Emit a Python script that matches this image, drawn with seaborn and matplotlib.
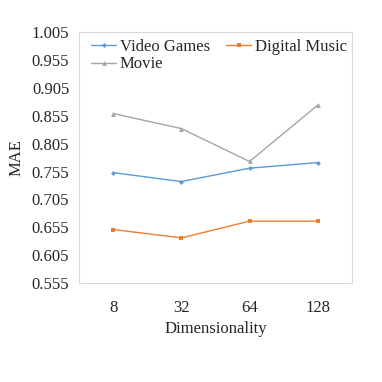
import numpy as np
import matplotlib
matplotlib.use('Agg')
import matplotlib.pyplot as plt
import seaborn as sns
import pandas as pd

sns.set_style('white')
plt.rcParams['font.family'] = ['Liberation Serif', 'DejaVu Serif']

#### DATA ####
dims = ['8', '32', '64', '128']
video_games = [0.753, 0.737, 0.761, 0.771]
digital_music = [0.651, 0.636, 0.666, 0.666]
movie = [0.859, 0.832, 0.773, 0.874]
yticks = [0.555, 0.605, 0.655, 0.705, 0.755, 0.805, 0.855, 0.905, 0.955, 1.005]

df = pd.DataFrame({
    'Dimensionality': dims * 3,
    'MAE': video_games + digital_music + movie,
    'Dataset': ['Video Games'] * 4 + ['Digital Music'] * 4 + ['Movie'] * 4,
})

colors = {'Video Games': '#5B9BD5', 'Digital Music': '#ED7D31', 'Movie': '#A5A5A5'}
markers = {'Video Games': 'D', 'Digital Music': 's', 'Movie': '^'}
msizes = {'Video Games': 2.5, 'Digital Music': 3.5, 'Movie': 3.5}

fig = plt.figure(figsize=(3.82, 3.82), dpi=100)
ax = fig.add_axes([0.207, 0.259, 0.714, 0.657])

for name in ['Video Games', 'Digital Music', 'Movie']:
    sub = df[df['Dataset'] == name]
    sns.lineplot(data=sub, x='Dimensionality', y='MAE', color=colors[name],
                 marker=markers[name], markersize=msizes[name], markeredgewidth=0,
                 linewidth=1.0, label=name, ax=ax, sort=False)

ax.set_xlim(-0.5, 3.5)
ax.set_ylim(0.555, 1.005)
ax.set_yticks(yticks)
ax.set_yticklabels(['%.3f' % t for t in yticks])
ax.set_xticks(range(4))
ax.set_xticklabels(dims)
ax.set_xticks([0.5, 1.5, 2.5], minor=True)
ax.tick_params(axis='x', which='major', length=0, pad=12, labelsize=12)
ax.tick_params(axis='x', which='minor', length=4, width=0.8, color='#D9D9D9', direction='in')
ax.tick_params(axis='y', length=3, width=0.8, color='#D9D9D9', labelsize=12, pad=4)

for s in ax.spines.values():
    s.set_color('#D9D9D9')
    s.set_linewidth(0.8)

ax.set_xlabel('Dimensionality', fontsize=12, labelpad=4)
ax.set_ylabel('MAE', fontsize=12, labelpad=5)

# row-major legend order: Video Games, Digital Music / Movie
handles, labels = ax.get_legend_handles_labels()
order = [0, 2, 1]
ax.legend([handles[i] for i in order], [labels[i] for i in order],
          loc='upper left', ncol=2, frameon=False, fontsize=12,
          handlelength=1.5, handletextpad=0.2, columnspacing=1.0,
          borderaxespad=0.0, labelspacing=0.1, bbox_to_anchor=(0.02, 1.0))

fig.savefig('out.png', dpi=100)
